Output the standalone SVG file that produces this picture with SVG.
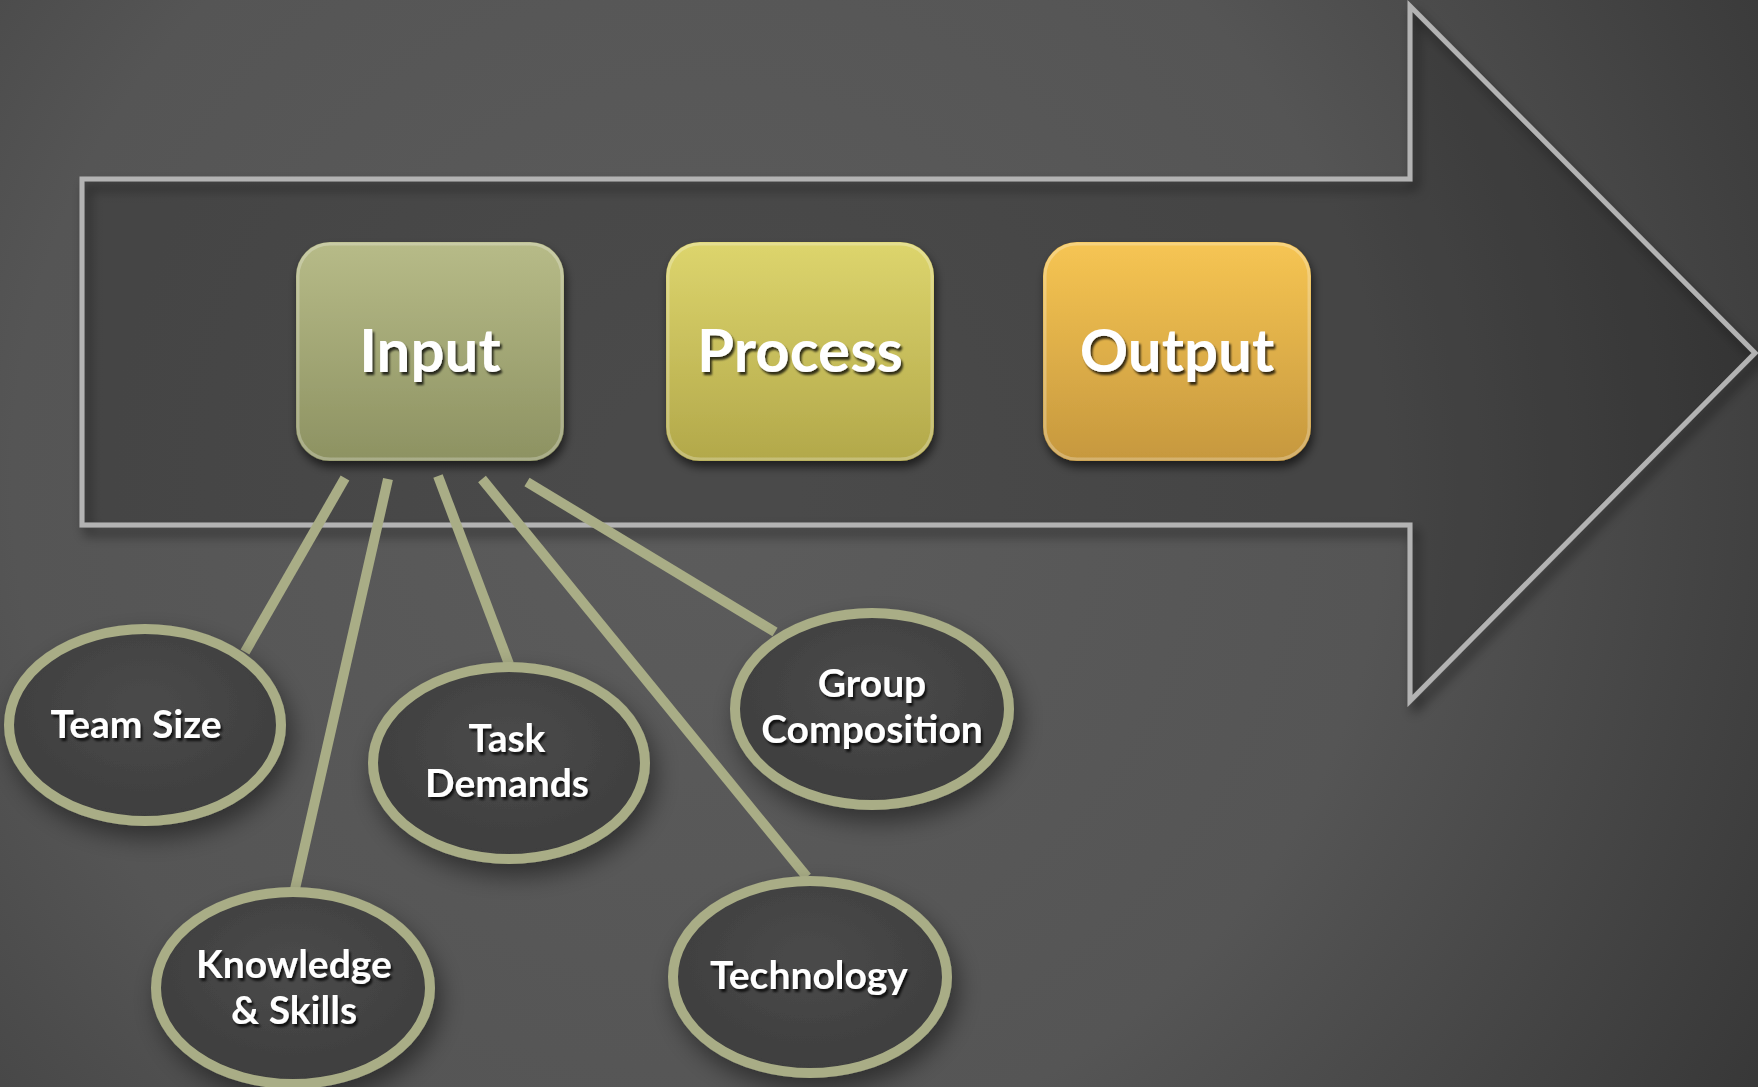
<svg xmlns="http://www.w3.org/2000/svg" width="1758" height="1087" viewBox="0 0 1758 1087">
  <defs>
    <radialGradient id="bg" cx="700" cy="480" r="1250" gradientUnits="userSpaceOnUse">
      <stop offset="0" stop-color="#5c5c5c"/>
      <stop offset="0.55" stop-color="#555555"/>
      <stop offset="1" stop-color="#363636"/>
    </radialGradient>
    <linearGradient id="gInput" x1="0" y1="0" x2="0" y2="1">
      <stop offset="0" stop-color="#b7bb88"/>
      <stop offset="1" stop-color="#8d9262"/>
    </linearGradient>
    <linearGradient id="gProcess" x1="0" y1="0" x2="0" y2="1">
      <stop offset="0" stop-color="#ddd56d"/>
      <stop offset="1" stop-color="#b2a84a"/>
    </linearGradient>
    <linearGradient id="gOutput" x1="0" y1="0" x2="0" y2="1">
      <stop offset="0" stop-color="#f6c553"/>
      <stop offset="1" stop-color="#c6983e"/>
    </linearGradient>
    <radialGradient id="gEll" cx="0.5" cy="0.4" r="0.6">
      <stop offset="0" stop-color="#4a4a4a"/>
      <stop offset="1" stop-color="#3e3e3e"/>
    </radialGradient>
    <filter id="shArrow" x="-10%" y="-10%" width="120%" height="130%">
      <feDropShadow dx="5" dy="8" stdDeviation="6" flood-color="#000" flood-opacity="0.55"/>
    </filter>
    <filter id="shBox" x="-20%" y="-20%" width="140%" height="150%">
      <feDropShadow dx="2" dy="6" stdDeviation="5" flood-color="#000" flood-opacity="0.6"/>
    </filter>
    <filter id="shEll" x="-30%" y="-30%" width="160%" height="170%">
      <feDropShadow dx="6" dy="12" stdDeviation="12" flood-color="#000" flood-opacity="0.45"/>
    </filter>
    <filter id="shText" x="-10%" y="-20%" width="120%" height="150%">
      <feDropShadow dx="2" dy="3" stdDeviation="1.2" flood-color="#000" flood-opacity="0.75"/>
    </filter>
    <style>
      .box-label { font-family: Lato, "Open Sans", "Liberation Sans", sans-serif; font-weight: bold; font-size: 60px; fill: #ffffff; text-anchor: middle; }
      .ell-label { font-family: Lato, "Open Sans", "Liberation Sans", sans-serif; font-weight: bold; font-size: 39px; fill: #ffffff; text-anchor: middle; }
      .ell { fill: url(#gEll); stroke: #a9ad86; stroke-width: 10; }
      .conn { stroke: #a9ad86; stroke-width: 10; stroke-linecap: butt; fill: none; }
      .bevel { fill: none; stroke: #ffffff; stroke-opacity: 0.25; stroke-width: 3; }
    </style>
  </defs>

  <rect width="1758" height="1087" fill="url(#bg)"/>

  <g id="arrow">
    <path d="M82,179 L1410,179 L1410,6 L1755,353 L1410,701 L1410,525 L82,525 Z" fill="#000" fill-opacity="0.13" stroke="#b3b3b3" stroke-width="5" filter="url(#shArrow)"/>
  </g>

  <g id="connectors">
    <line class="conn" x1="345" y1="478" x2="245" y2="652"/>
    <line class="conn" x1="388" y1="479" x2="295" y2="889"/>
    <line class="conn" x1="438" y1="476" x2="509" y2="664"/>
    <line class="conn" x1="482" y1="479" x2="807" y2="877"/>
    <line class="conn" x1="527" y1="482" x2="775" y2="632"/>
  </g>

  <g id="node-input">
    <rect x="296" y="242" width="268" height="219" rx="34" fill="url(#gInput)" filter="url(#shBox)"/>
    <rect x="298" y="244" width="264" height="215" rx="32" class="bevel"/>
    <text class="box-label" x="430" y="372" filter="url(#shText)">Input</text>
  </g>
  <g id="node-process">
    <rect x="666" y="242" width="268" height="219" rx="34" fill="url(#gProcess)" filter="url(#shBox)"/>
    <rect x="668" y="244" width="264" height="215" rx="32" class="bevel"/>
    <text class="box-label" x="800" y="372" filter="url(#shText)">Process</text>
  </g>
  <g id="node-output">
    <rect x="1043" y="242" width="268" height="219" rx="34" fill="url(#gOutput)" filter="url(#shBox)"/>
    <rect x="1045" y="244" width="264" height="215" rx="32" class="bevel"/>
    <text class="box-label" x="1177" y="372" filter="url(#shText)">Output</text>
  </g>

  <g id="node-team-size">
    <ellipse class="ell" cx="145" cy="725" rx="136" ry="96" filter="url(#shEll)"/>
    <text class="ell-label" x="136" y="738" filter="url(#shText)">Team Size</text>
  </g>
  <g id="node-task-demands">
    <ellipse class="ell" cx="509" cy="763" rx="136" ry="96" filter="url(#shEll)"/>
    <text class="ell-label" x="507" y="752" filter="url(#shText)">Task</text>
    <text class="ell-label" x="507" y="797" filter="url(#shText)">Demands</text>
  </g>
  <g id="node-group-composition">
    <ellipse class="ell" cx="872" cy="709" rx="137" ry="96" filter="url(#shEll)"/>
    <text class="ell-label" x="872" y="697" filter="url(#shText)">Group</text>
    <text class="ell-label" x="872" y="743" filter="url(#shText)">Composition</text>
  </g>
  <g id="node-knowledge-skills">
    <ellipse class="ell" cx="293" cy="988" rx="137" ry="96" filter="url(#shEll)"/>
    <text class="ell-label" x="294" y="978" filter="url(#shText)">Knowledge</text>
    <text class="ell-label" x="294" y="1024" filter="url(#shText)">&amp; Skills</text>
  </g>
  <g id="node-technology">
    <ellipse class="ell" cx="810" cy="977" rx="137" ry="96" filter="url(#shEll)"/>
    <text class="ell-label" x="809" y="989" filter="url(#shText)">Technology</text>
  </g>
</svg>
